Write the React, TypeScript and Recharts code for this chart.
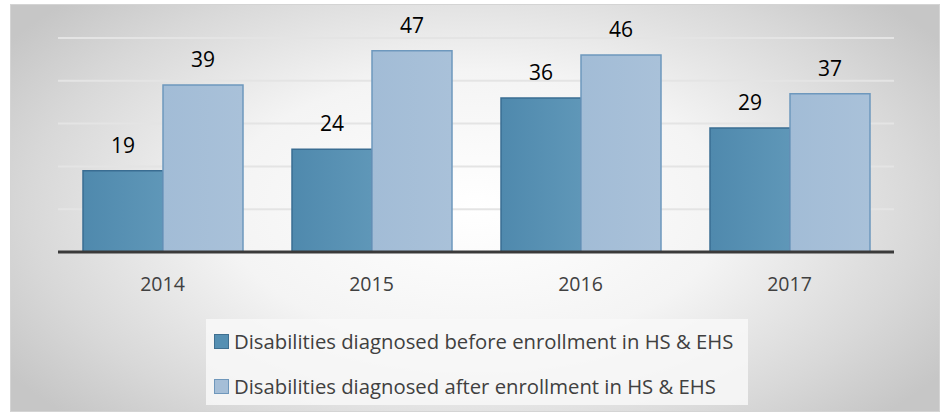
import React from "react";
import { BarChart, Bar, XAxis, YAxis, CartesianGrid, LabelList } from "recharts";

const years = ["2014", "2015", "2016", "2017"];
const before = [19, 24, 36, 29];
const after = [39, 47, 46, 37];
const yTicks = [0, 10, 20, 30, 40, 50];
const seriesNames = [
  "Disabilities diagnosed before enrollment in HS & EHS",
  "Disabilities diagnosed after enrollment in HS & EHS",
];

const data = years.map((y, i) => ({ year: y, before: before[i], after: after[i] }));

const FONT = "'Open Sans', 'DejaVu Sans', sans-serif";

const legendItems = [
  { name: seriesNames[0], fill: "#558fb2", stroke: "#3f6f90" },
  { name: seriesNames[1], fill: "#a5bed7", stroke: "#6f97bb" },
];

const LegendBox = () => (
  <div
    style={{
      position: "absolute",
      left: 206,
      top: 319,
      background: "rgba(248,248,248,0.85)",
      width: 542,
      height: 86,
      boxSizing: "border-box",
      fontFamily: FONT,
      fontSize: 20.3,
      color: "#404040",
    }}
  >
    {legendItems.map((s, i) => (
      <div
        key={i}
        style={{
          position: "absolute",
          left: 8,
          top: 22 + i * 45 - 13,
          height: 26,
          display: "flex",
          alignItems: "center",
          whiteSpace: "nowrap",
        }}
      >
        <span
          style={{
            display: "inline-block",
            width: 13,
            height: 13,
            background: s.fill,
            border: `1.5px solid ${s.stroke}`,
            marginRight: 5,
          }}
        />
        <span>{s.name}</span>
      </div>
    ))}
  </div>
);

export default function App() {
  return (
    <div style={{ position: "absolute", left: 0, top: 0, width: 946, height: 417, background: "#fff" }}>
      <div
        style={{
          position: "absolute",
          left: 10,
          top: 4,
          width: 930,
          height: 408,
          boxSizing: "border-box",
          border: "1px solid #d4d4d4",
          background: "radial-gradient(ellipse 60% 75% at 50% 50%, #ffffff 0%, #f4f4f4 45%, #d8d8d8 80%, #c6c6c6 100%)",
        }}
      />
      <LegendBox />
      <div style={{ position: "absolute", left: 0, top: 0 }}>
        <BarChart
          width={946}
          height={417}
          data={data}
          margin={{ top: 38, right: 52, bottom: 135, left: 58 }}
          barCategoryGap={25}
          barGap={0}
        >
          <defs>
            <linearGradient id="gDark" x1="0" y1="0" x2="1" y2="0">
              <stop offset="0%" stopColor="#4f89ad" />
              <stop offset="100%" stopColor="#5f97b8" />
            </linearGradient>
            <linearGradient id="gLight" x1="0" y1="0" x2="1" y2="0">
              <stop offset="0%" stopColor="#a2bcd6" />
              <stop offset="100%" stopColor="#a9c1d9" />
            </linearGradient>
          </defs>
          <CartesianGrid vertical={false} stroke="#e4e4e4" strokeWidth={2} />
          <YAxis hide domain={[0, 50]} ticks={yTicks} />
          <XAxis
            dataKey="year"
            axisLine={{ stroke: "#3a3a3a", strokeWidth: 3 }}
            tickLine={false}
            tick={{ fill: "#404040", fontSize: 19.5, fontFamily: FONT }}
            tickMargin={19}
          />
          <Bar dataKey="before" name={seriesNames[0]} fill="url(#gDark)" stroke="#3a6d92" strokeWidth={1.5} isAnimationActive={false}>
            <LabelList dataKey="before" position="top" offset={18} style={{ fill: "#000", fontSize: 21, fontFamily: FONT }} />
          </Bar>
          <Bar dataKey="after" name={seriesNames[1]} fill="url(#gLight)" stroke="#6e98bd" strokeWidth={1.5} isAnimationActive={false}>
            <LabelList dataKey="after" position="top" offset={18} style={{ fill: "#000", fontSize: 21, fontFamily: FONT }} />
          </Bar>
        </BarChart>
      </div>
    </div>
  );
}
